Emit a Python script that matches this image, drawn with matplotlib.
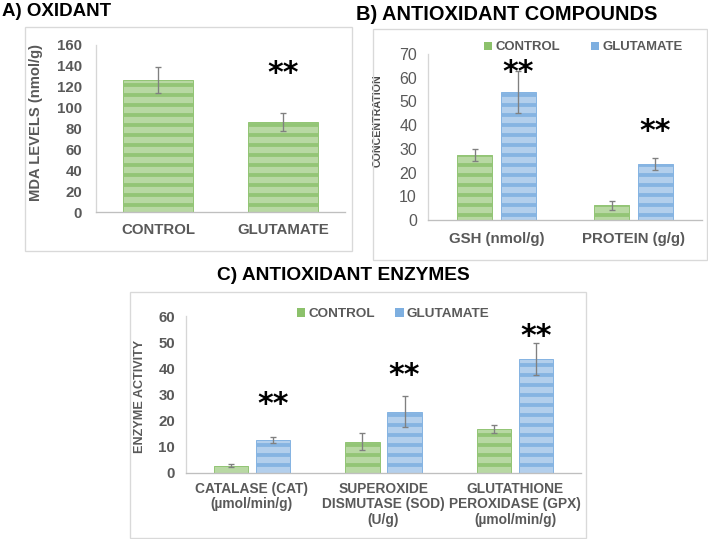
import matplotlib
matplotlib.use('Agg')
import matplotlib.pyplot as plt
from matplotlib.patches import Rectangle, Patch
import numpy as np

plt.rcParams['font.family'] = ['Liberation Sans', 'DejaVu Sans']
plt.rcParams['hatch.linewidth'] = 2.3

# ---------------- data ----------------
a_categories = ['CONTROL', 'GLUTAMATE']
a_values = [126.4, 86.5]
a_errors = [12.5, 8.5]
a_sig_y = [None, 137]

b_categories = ['GSH (nmol/g)', 'PROTEIN (g/g)']
b_control = [27.4, 6.2]
b_control_err = [2.5, 1.8]
b_glutamate = [54.0, 23.6]
b_glutamate_err = [8.7, 2.5]
b_sig_y = [64.1, 39.2]

c_categories = ['CATALASE (CAT)\n(µmol/min/g)',
                'SUPEROXIDE\nDISMUTASE (SOD)\n(U/g)',
                'GLUTATHIONE\nPEROXIDASE (GPX)\n(µmol/min/g)']
c_control = [2.8, 12.0, 16.7]
c_control_err = [0.6, 3.3, 1.6]
c_glutamate = [12.6, 23.4, 43.6]
c_glutamate_err = [1.0, 6.0, 6.0]
c_sig_y = [27.9, 39.0, 53.9]

series_names = ['CONTROL', 'GLUTAMATE']

# ---------------- style ----------------
W, H = 708, 539
DPI = 120
PT = 72.0 / DPI  # px -> pt
GREEN_LIGHT = '#b8d8a3'
GREEN_DARK = '#93c576'
GREEN_LEG = '#8cc16b'
BLUE_LIGHT = '#b3cfec'
BLUE_DARK = '#86b4e2'
BLUE_LEG = '#7eafe0'
GRAY_TXT = '#595959'
ERR_COL = '#808080'
SPINE = '#d6d6d6'
BOX = '#d9d9d9'

fig = plt.figure(figsize=(W / DPI, H / DPI), dpi=DPI)


def rect(l, t, r, b):
    return [l / W, 1 - b / H, (r - l) / W, (b - t) / H]


def box(l, t, r, b):
    fig.patches.append(Rectangle((l / W, 1 - b / H), (r - l) / W, (b - t) / H,
                                 transform=fig.transFigure, fill=False,
                                 edgecolor=BOX, linewidth=0.8))


def style_axes(ax, tick_bold=True, tick_px=13):
    for s in ['top', 'right']:
        ax.spines[s].set_visible(False)
    ax.spines['left'].set_color(SPINE)
    ax.spines['bottom'].set_color('#bfbfbf')
    ax.spines['left'].set_linewidth(0.8)
    ax.spines['bottom'].set_linewidth(0.8)
    ax.tick_params(axis='both', length=0, colors=GRAY_TXT)
    for lab in ax.get_yticklabels():
        lab.set_fontweight('bold' if tick_bold else 'normal')
        lab.set_fontsize(tick_px * PT)


STAR_PX = 30


def star(ax, x, y):
    ax.annotate('**', (x, y), xytext=(0, -0.16 * STAR_PX * PT),
                textcoords='offset points', ha='center', va='center',
                fontsize=STAR_PX * PT, fontweight='bold',
                color='black', family='DejaVu Sans')


err_kw = dict(ecolor=ERR_COL, elinewidth=0.8, capsize=1.6, capthick=0.8)

# ---------------- Panel A ----------------
box(25, 27, 352, 251)
fig.text(2 / W, 1 - 12 / H, 'A) OXIDANT', fontsize=18.7 * PT, fontweight='bold',
         va='center', ha='left')
axA = fig.add_axes(rect(96, 45, 345, 212))
xa = np.arange(len(a_categories))
axA.bar(xa, a_values, width=0.56, yerr=a_errors, color=GREEN_LIGHT,
        edgecolor=GREEN_DARK, linewidth=0.6, hatch='--', error_kw=err_kw)
axA.set_xlim(-0.5, len(a_categories) - 0.5)
axA.set_ylim(0, 160)
axA.set_yticks(np.arange(0, 161, 20))
axA.set_xticks(xa)
axA.set_xticklabels(a_categories, fontsize=15 * PT, fontweight='bold', color=GRAY_TXT)
style_axes(axA, True, 15)
axA.tick_params(axis='y', pad=14 * PT)
axA.tick_params(axis='x', pad=11 * PT)
axA.set_ylabel('MDA LEVELS (nmol/g)', fontsize=14.8 * PT, fontweight='bold',
               color=GRAY_TXT)
axA.yaxis.set_label_coords((43 - 96) / (345 - 96), 0.536)
for i, y in enumerate(a_sig_y):
    if y is not None:
        star(axA, xa[i], y)

# ---------------- Panel B ----------------
box(373, 29, 707, 260)
fig.text(356 / W, 1 - 14.5 / H, 'B) ANTIOXIDANT COMPOUNDS', fontsize=20 * PT,
         fontweight='bold', va='center', ha='left')
axB = fig.add_axes(rect(428, 54, 702, 220))
xb = np.arange(len(b_categories))
bw = 0.255
off = 0.16
axB.bar(xb - off, b_control, width=bw, yerr=b_control_err, color=GREEN_LIGHT,
        edgecolor=GREEN_DARK, linewidth=0.6, hatch='--', error_kw=err_kw)
axB.bar(xb + off, b_glutamate, width=bw, yerr=b_glutamate_err, color=BLUE_LIGHT,
        edgecolor=BLUE_DARK, linewidth=0.6, hatch='--', error_kw=err_kw)
axB.set_xlim(-0.5, len(b_categories) - 0.5)
axB.set_ylim(0, 70)
axB.set_yticks(np.arange(0, 71, 10))
axB.set_xticks(xb)
axB.set_xticklabels(b_categories, fontsize=15 * PT, fontweight='bold', color=GRAY_TXT)
style_axes(axB, False, 16)
axB.tick_params(axis='y', pad=11 * PT)
axB.tick_params(axis='x', pad=12 * PT)
axB.set_ylabel('CONCENTRATION', fontsize=10.6 * PT, fontweight='bold', color='#4a4a4a')
axB.yaxis.set_label_coords((383 - 428) / (702 - 428), 0.60)
handlesB = [Patch(facecolor=GREEN_LEG, edgecolor='none'),
            Patch(facecolor=BLUE_LEG, edgecolor='none')]
axB.legend(handlesB, series_names, loc='center', ncol=2, frameon=False,
           bbox_to_anchor=(0.567, 1.04), handlelength=0.6, handleheight=0.6,
           handletextpad=0.25, columnspacing=2.4,
           prop={'size': 13.2 * PT, 'weight': 'bold'}, labelcolor=GRAY_TXT)
for i, y in enumerate(b_sig_y):
    star(axB, xb[i] + off, y)

# ---------------- Panel C ----------------
box(130, 292, 586, 538)
fig.text(217 / W, 1 - 275 / H, 'C) ANTIOXIDANT ENZYMES', fontsize=19.1 * PT,
         fontweight='bold', va='center', ha='left')
axC = fig.add_axes(rect(186, 316, 581, 473))
xc = np.arange(len(c_categories))
axC.bar(xc - off, c_control, width=bw + 0.005, yerr=c_control_err, color=GREEN_LIGHT,
        edgecolor=GREEN_DARK, linewidth=0.6, hatch='--', error_kw=err_kw)
axC.bar(xc + off, c_glutamate, width=bw + 0.005, yerr=c_glutamate_err, color=BLUE_LIGHT,
        edgecolor=BLUE_DARK, linewidth=0.6, hatch='--', error_kw=err_kw)
axC.set_xlim(-0.5, len(c_categories) - 0.5)
axC.set_ylim(0, 60)
axC.set_yticks(np.arange(0, 61, 10))
axC.set_xticks(xc)
axC.set_xticklabels(c_categories, fontsize=13.8 * PT, fontweight='bold',
                    color=GRAY_TXT, linespacing=1.12, multialignment='center')
style_axes(axC, True, 15)
axC.tick_params(axis='y', pad=11 * PT)
axC.tick_params(axis='x', pad=9 * PT)
axC.set_ylabel('ENZYME ACTIVITY', fontsize=12.6 * PT, fontweight='bold', color=GRAY_TXT)
axC.yaxis.set_label_coords((146 - 186) / (581 - 186), 0.49)
handlesC = [Patch(facecolor=GREEN_LEG, edgecolor='none'),
            Patch(facecolor=BLUE_LEG, edgecolor='none')]
axC.legend(handlesC, series_names, loc='center', ncol=2, frameon=False,
           bbox_to_anchor=(0.525, 1.013), handlelength=0.6, handleheight=0.6,
           handletextpad=0.25, columnspacing=1.5,
           prop={'size': 13.5 * PT, 'weight': 'bold'}, labelcolor=GRAY_TXT)
for i, y in enumerate(c_sig_y):
    star(axC, xc[i] + off, y)

fig.savefig('out.png', dpi=DPI)
